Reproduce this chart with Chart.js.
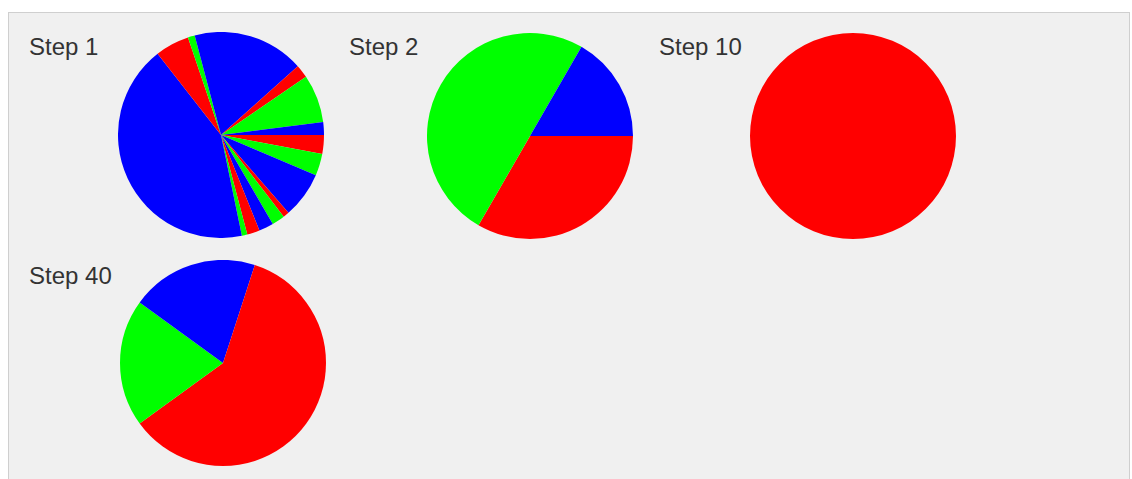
<!DOCTYPE html>
<html>
<head>
<meta charset="utf-8">
<script src="https://cdn.jsdelivr.net/npm/chart.js@4.4.0/dist/chart.umd.min.js"></script>
<style>
  body { margin: 0; background: #fff; overflow: hidden; }
  #panel {
    position: absolute; left: 8px; top: 12px; width: 1120px; height: 480px;
    background: #f0f0f0; border: 1px solid #cfcfcf;
  }
  .label {
    position: absolute; font-family: "Liberation Sans", Arial, sans-serif;
    font-size: 24px; line-height: 1; color: #333; white-space: nowrap;
  }
  .pie { position: absolute; width: 206px; height: 206px; }
</style>
</head>
<body>
<div id="panel"></div>
<script>
// pasos y valores de cada pastel (rojo, verde, azul se repiten)
var pasos = ["Step 1", "Step 2", "Step 10", "Step 40"];
var paso1 = [10.6, 12.4, 26.1, 3.4, 7.3, 8.3, 7.1, 3.1, 153.7, 19.3, 3.9, 63.0, 7.4, 27.2, 7.2];
var paso2 = [2, 3, 1];
var paso10 = [1];
var paso40 = [2, 1, 1, 1];
var colores = ["#ff0000", "#00ff00", "#0000ff"];

var valores = [paso1, paso2, paso10, paso40];

// posiciones en pantalla (etiqueta y pastel)
var celdas = [
    { lx: 29, ly: 34.5, px: 118, py: 32 },
    { lx: 349, ly: 35, px: 427, py: 32.5 },
    { lx: 659, ly: 35, px: 750, py: 32.5 },
    { lx: 29, ly: 264, px: 120, py: 260 }
];

var body = document.body;
for (var i = 0; i < pasos.length; i++) {
    var c = celdas[i];

    var etiqueta = document.createElement("div");
    etiqueta.className = "label";
    etiqueta.style.left = c.lx + "px";
    etiqueta.style.top = c.ly + "px";
    etiqueta.innerText = pasos[i];
    body.appendChild(etiqueta);

    var canvas = document.createElement("canvas");
    canvas.className = "pie";
    canvas.width = 206;
    canvas.height = 206;
    canvas.style.left = c.px + "px";
    canvas.style.top = c.py + "px";
    body.appendChild(canvas);

    var datos = valores[i];
    new Chart(canvas.getContext("2d"), {
        type: "pie",
        data: {
            labels: datos.map(function (v, j) { return j; }),
            datasets: [{
                data: datos,
                backgroundColor: datos.map(function (v, j) { return colores[j % 3]; }),
                borderWidth: 0
            }]
        },
        options: {
            responsive: false,
            animation: false,
            rotation: 90,
            layout: { padding: 0 },
            plugins: {
                legend: { display: false },
                tooltip: { enabled: false }
            }
        }
    });
}
</script>
</body>
</html>
